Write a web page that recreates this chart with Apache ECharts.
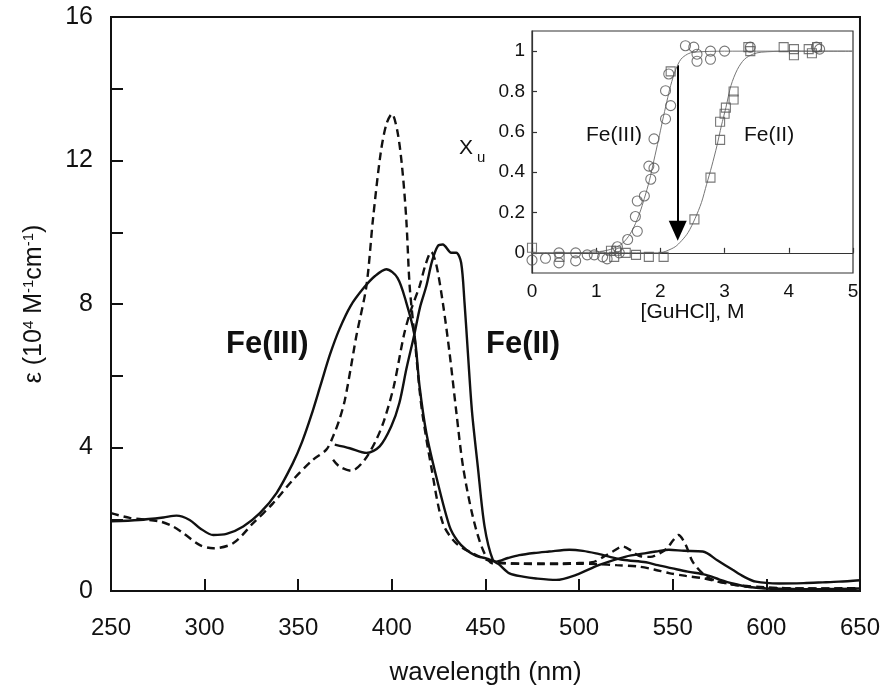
<!DOCTYPE html>
<html><head><meta charset="utf-8">
<script src="https://cdn.jsdelivr.net/npm/echarts@6/dist/echarts.min.js"></script>
<style>html,body{margin:0;padding:0;background:#fff}#c{width:883px;height:694px}</style>
</head><body><div id="c"></div>
<script>
// ---- main spectra (wavelength nm, epsilon 10^4 M^-1 cm^-1) ----
const fe3SolidWl = [250,265,278,285,292,297.5,304.6,311.7,320.6,329.5,338.4,347,352,357,362,367,372,378,385,391,397,403,407.7,412,414.8,418.4,423.7,430.8,435,439.7,445,450.4,455.7,462,468,476,484,494.8,502,509,516,523.2,535.7,542,549.9,558,567.7,575,582,590,599.7,610,625,640,650];
const fe3SolidEps = [1.94,1.98,2.05,2.1,1.98,1.75,1.56,1.59,1.8,2.17,2.73,3.55,4.15,4.9,5.75,6.6,7.3,7.95,8.45,8.78,8.97,8.73,8.04,7.15,5.7,4.41,3.19,1.8,1.4,1.15,0.98,0.91,0.82,0.92,1.0,1.06,1.1,1.15,1.12,1.05,0.96,0.87,0.8,0.72,0.63,0.54,0.45,0.32,0.21,0.12,0.07,0.06,0.05,0.06,0.07];

const fe3DashWl = [250,260,276,283,288.6,297.5,304.6,315.2,325.9,336.6,347.2,357.9,365,368.6,372,374.8,378,381,386.4,389.9,394,397,400,403,405.5,407.7,409.5,412,414.8,416.5,421,427.2,434.4,445,452,460,470,480,490,500,510,520,532,540,548,557,566.8,575,585,600,620,650];
const fe3DashEps = [2.17,2.04,1.94,1.8,1.61,1.28,1.19,1.33,1.89,2.45,3.1,3.66,3.94,4.31,4.78,5.3,6.2,7.1,8.5,10.36,12.2,13.0,13.3,12.8,11.8,10.36,8.5,7.15,5.6,4.87,3.47,1.89,1.33,1.0,0.85,0.78,0.76,0.75,0.75,0.76,0.75,0.72,0.68,0.6,0.5,0.42,0.35,0.25,0.16,0.1,0.07,0.08];

const fe2SolidWl = [369.5,377.5,386.4,393.5,399.7,404,407.8,412,415,418.4,421.5,424.6,427.2,431.7,434.4,437,438.8,440.6,442.8,445.9,449.5,453.9,457.5,462.8,470,477,487.7,498.4,510.8,525,535,541,548,556,566,574,582,588,594.4,606.8,620,630,638.8,650];
const fe2SolidEps = [4.08,3.98,3.85,4.03,4.59,5.24,6.2,7.15,7.9,8.5,9.2,9.62,9.66,9.43,9.43,9.15,8.04,6.64,5.0,3.47,1.8,0.87,0.73,0.49,0.4,0.35,0.31,0.45,0.73,0.96,1.05,1.1,1.15,1.12,1.1,0.85,0.59,0.4,0.26,0.21,0.22,0.24,0.26,0.3];

const fe2DashWl = [368.6,372,378.4,385.5,391.7,396,401,406.5,410,414.8,418,421,423.7,427.2,430.8,434.4,438,443.2,448.6,453.9,460,470,480,490,500,507,513,518,523.2,528,532,538,543,547,550,553,557,560.6,566.8,572,580,590,600,620,650];
const fe2DashEps = [3.66,3.47,3.35,3.66,4.22,4.78,5.7,7.15,7.8,8.5,9.1,9.45,9.1,8.04,6.64,5.0,3.47,2.08,1.15,0.77,0.77,0.76,0.77,0.77,0.78,0.8,0.95,1.1,1.24,1.12,0.98,0.95,1.05,1.19,1.4,1.56,1.28,0.82,0.45,0.3,0.2,0.12,0.08,0.07,0.06];

// ---- inset: unfolded fraction vs [GuHCl] ----
const fe3PtsX = [0.0,0.21,0.42,0.42,0.68,0.68,0.86,0.97,1.1,1.17,1.33,1.36,1.49,1.64,1.61,1.64,1.75,1.85,1.82,1.9,1.9,2.08,2.16,2.08,2.13,2.39,2.52,2.57,2.57,2.78,2.78,3.0,3.4,4.43,4.48];
const fe3PtsY = [-0.036,-0.027,0,-0.05,0,-0.04,-0.01,-0.01,-0.02,-0.03,0.03,0,0.066,0.107,0.18,0.257,0.282,0.365,0.43,0.42,0.565,0.664,0.73,0.804,0.887,1.027,1.02,0.985,0.95,1.0,0.96,1.0,1.02,1.02,1.01];
const fe2PtsX = [0,0.43,1.23,1.28,1.31,1.46,1.62,1.82,2.05,2.16,2.53,2.78,2.93,2.93,3.0,3.02,3.14,3.14,3.37,3.4,3.92,4.08,4.08,4.31,4.36,4.44];
const fe2PtsY = [0.025,-0.02,0.01,-0.02,0.01,0,-0.01,-0.02,-0.02,0.9,0.166,0.373,0.56,0.65,0.69,0.72,0.76,0.80,1.02,1.0,1.02,1.01,0.98,1.01,0.99,1.02];
const fe3FitX = [0,0.5,1.0,1.2,1.38,1.5,1.59,1.68,1.75,1.83,1.9,1.97,2.03,2.1,2.16,2.24,2.32,2.42,2.52,3,4,5];
const fe3FitY = [0,0,0.005,0.015,0.04,0.08,0.13,0.2,0.27,0.36,0.46,0.56,0.65,0.75,0.83,0.91,0.96,0.985,0.995,1,1,1];
const fe2FitX = [0,1,2,2.1,2.23,2.33,2.43,2.54,2.64,2.72,2.8,2.88,2.95,3.02,3.1,3.2,3.31,3.44,3.57,4,5];
const fe2FitY = [0,0,0,0.01,0.03,0.06,0.1,0.17,0.25,0.34,0.43,0.53,0.63,0.72,0.83,0.91,0.96,0.985,0.995,1,1];
const arrowFrom = [2.27, 0.93];
const arrowTo = [2.27, 0.11];
const insetYTicks = [0,0.2,0.4,0.6,0.8,1];

const zip = (a,b) => a.map((v,i)=>[v,b[i]]);
const FONT = "'Liberation Sans', Arial, Helvetica, sans-serif";
const chart = echarts.init(document.getElementById('c'), null, {renderer:'canvas'});

const solid = {color:'#111', width:2.4, type:'solid'};
const dashed = {color:'#111', width:2.4, type:[8,5]};

chart.setOption({
  animation:false,
  backgroundColor:'#fff',
  grid:[
    {left:111, top:17, width:750, height:574, show:true, borderColor:'#111', borderWidth:2, backgroundColor:'transparent'},
    {left:532, top:31, width:321, height:242, show:true, borderColor:'#333', borderWidth:1.2, backgroundColor:'#fff', z:5}
  ],
  xAxis:[
    {gridIndex:0, type:'value', min:250, max:650, interval:50,
     axisLine:{show:true, lineStyle:{color:'#111', width:2}},
     axisTick:{inside:true, length:12, lineStyle:{color:'#111', width:2}},
     axisLabel:{fontSize:24, color:'#111', fontFamily:FONT, margin:25},
     splitLine:{show:false},
     name:'wavelength (nm)', nameLocation:'middle', nameGap:69,
     nameTextStyle:{fontSize:26, color:'#111', fontFamily:FONT}},
    {gridIndex:1, type:'value', min:0, max:5, interval:1,
     axisLine:{show:true, lineStyle:{color:'#333', width:1.2}},
     axisTick:{inside:true, length:5, lineStyle:{color:'#333', width:1.2}},
     axisLabel:{fontSize:19, color:'#111', fontFamily:FONT, margin:9},
     splitLine:{show:false},
     name:'[GuHCl], M', nameLocation:'middle', nameGap:29,
     nameTextStyle:{fontSize:21, color:'#111', fontFamily:FONT}, z:6}
  ],
  yAxis:[
    {gridIndex:0, type:'value', min:0, max:16, interval:2,
     axisLine:{show:true, lineStyle:{color:'#111', width:2}},
     axisTick:{inside:true, length:12, lineStyle:{color:'#111', width:2}},
     axisLabel:{fontSize:25, color:'#111', fontFamily:FONT, margin:18,
       formatter:v => (v % 4 === 0 ? String(v) : '')},
     splitLine:{show:false},
     name:'ε (10{sup|4} M{sup|-1}cm{sup|-1})', nameLocation:'middle', nameGap:63,
     nameTextStyle:{fontSize:25, color:'#111', fontFamily:FONT,
       rich:{sup:{fontSize:15, color:'#111', fontFamily:FONT, padding:[0,0,12,0]}}}},
    {gridIndex:1, type:'value', min:-0.1, max:1.1,
     axisLine:{show:true, lineStyle:{color:'#333', width:1.2}},
     axisTick:{inside:true, length:5, customValues:insetYTicks, lineStyle:{color:'#333', width:1.2}},
     axisLabel:{fontSize:19, color:'#111', fontFamily:FONT, margin:7, customValues:insetYTicks},
     splitLine:{show:false}, z:6}
  ],
  graphic:[
    {type:'text', left:226, top:329, z:10, style:{text:'Fe(III)', font:"bold 31px "+FONT, fill:'#111'}},
    {type:'text', left:486, top:329, z:10, style:{text:'Fe(II)', font:"bold 31px "+FONT, fill:'#111'}},
    {type:'text', left:586, top:125, z:10, style:{text:'Fe(III)', font:"21px "+FONT, fill:'#111'}},
    {type:'text', left:744, top:125, z:10, style:{text:'Fe(II)', font:"21px "+FONT, fill:'#111'}},
    {type:'text', left:459, top:138, z:10, style:{text:'X{sub|u}', font:"21px "+FONT, fill:'#111',
      rich:{sub:{fontSize:15, fill:'#111', fontFamily:FONT, padding:[18,0,0,4]}}}}
  ],
  series:[
    {type:'line', xAxisIndex:0, yAxisIndex:0, data:zip(fe3SolidWl,fe3SolidEps), showSymbol:false, smooth:0.3, lineStyle:solid, z:3},
    {type:'line', xAxisIndex:0, yAxisIndex:0, data:zip(fe3DashWl,fe3DashEps), showSymbol:false, smooth:0.3, lineStyle:dashed, z:3},
    {type:'line', xAxisIndex:0, yAxisIndex:0, data:zip(fe2SolidWl,fe2SolidEps), showSymbol:false, smooth:0.3, lineStyle:solid, z:3},
    {type:'line', xAxisIndex:0, yAxisIndex:0, data:zip(fe2DashWl,fe2DashEps), showSymbol:false, smooth:0.3, lineStyle:dashed, z:3},
    {type:'line', xAxisIndex:1, yAxisIndex:1, data:zip(fe3FitX,fe3FitY), showSymbol:false, smooth:0.3, lineStyle:{color:'#777', width:1}, z:7,
     markLine:{silent:true, symbol:['none','triangle'], symbolSize:[18,20], label:{show:false},
       lineStyle:{color:'#000', width:2, type:'solid'},
       data:[[{coord:arrowFrom},{coord:arrowTo}]]}},
    {type:'line', xAxisIndex:1, yAxisIndex:1, data:zip(fe2FitX,fe2FitY), showSymbol:false, smooth:0.3, lineStyle:{color:'#777', width:1}, z:7},
    {type:'scatter', xAxisIndex:1, yAxisIndex:1, data:zip(fe3PtsX,fe3PtsY), symbol:'circle', symbolSize:10,
     itemStyle:{color:'rgba(255,255,255,0)', borderColor:'#555', borderWidth:1.1}, z:8},
    {type:'scatter', xAxisIndex:1, yAxisIndex:1, data:zip(fe2PtsX,fe2PtsY), symbol:'rect', symbolSize:9,
     itemStyle:{color:'rgba(255,255,255,0)', borderColor:'#555', borderWidth:1.1}, z:8}
  ]
});
</script></body></html>
